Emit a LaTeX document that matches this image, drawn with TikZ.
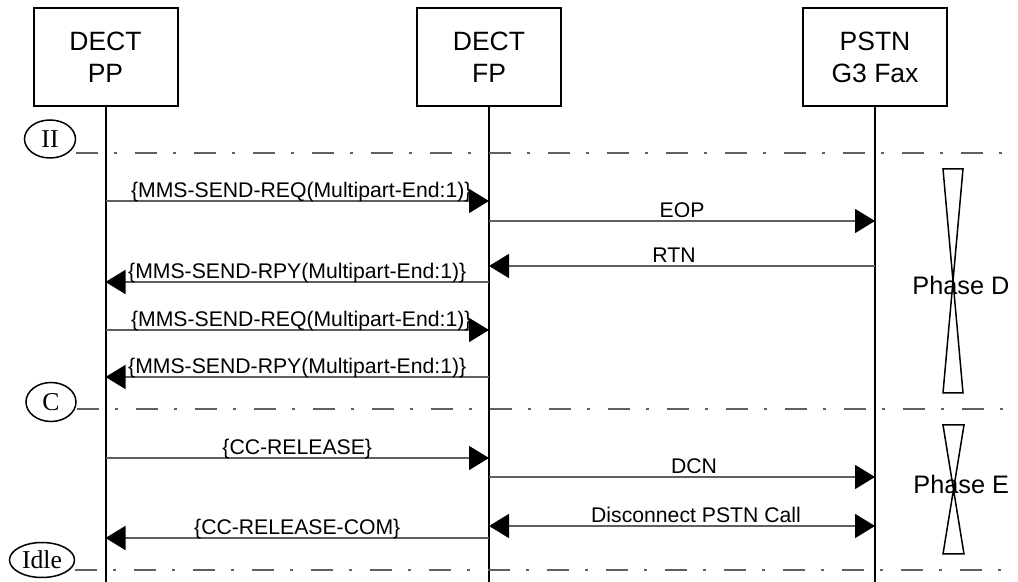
\documentclass[tikz,border=0pt]{standalone}
\usepackage{fontspec}
\setmainfont{Liberation Sans}
\newfontfamily\circfont{Liberation Serif}
\usetikzlibrary{arrows.meta,shapes.geometric}
\definecolor{lngray}{RGB}{95,95,95}
\begin{document}
\begin{tikzpicture}[x=0.5pt,y=-0.5pt,
  entity/.style={draw,line width=1pt,minimum width=72pt,minimum height=49pt,align=center,
    font=\fontsize{13.25}{16}\selectfont,inner sep=0pt},
  life/.style={line width=1pt},
  msg/.style={draw=lngray,line width=0.8pt},
  fwd/.style={-{Triangle[length=10pt,width=12pt,color=black]}},
  both/.style={{Triangle[length=10pt,width=12pt,color=black]}-{Triangle[length=10pt,width=12pt,color=black]}},
  lbl/.style={midway,anchor=base,yshift=1.5pt,inner sep=0pt,font=\fontsize{10.6}{12}\selectfont},
  state/.style={ellipse,draw,line width=0.75pt,inner sep=0pt,font=\circfont\fontsize{12.85}{14}\selectfont},
  phaseline/.style={draw=lngray,line width=0.8pt,dash pattern=on 11pt off 8pt on 1.5pt off 9pt},
  hglass/.style={line width=0.75pt},
  phasetxt/.style={anchor=west,inner sep=0pt,font=\fontsize{12.65}{14}\selectfont}
]
\useasboundingbox (0,0) rectangle (1018,582);

% entities
\node[entity] (PP) at (105.5,57) {DECT\\PP};
\node[entity] (FP) at (489,57) {DECT\\FP};
\node[entity] (PS) at (875,57) {PSTN\\G3 Fax};

\coordinate (bot) at (0,582);
\draw[life] (PP.south) -- (PP.south |- bot);
\draw[life] (FP.south) -- (FP.south |- bot);
\draw[life] (PS.south) -- (PS.south |- bot);

% state markers and phase separators
\node[state,minimum width=25.5pt,minimum height=19pt] (sII) at (50,139) {II};
\node[state,minimum width=25pt,minimum height=19.5pt] (sC) at (51,402) {C};
\node[state,minimum width=32.5pt,minimum height=17.5pt] (sIdle) at (42,560) {Idle};
\coordinate (e1) at (1018,153);
\coordinate (e2) at (1018,409);
\coordinate (e3) at (1018,570);
\draw[phaseline] (sII.east |- e1) -- (e1);
\draw[phaseline] (sC.east |- e2) -- (e2);
\draw[phaseline] (sIdle.east |- e3) -- (e3);

% message rows
\coordinate (m1) at (0,201);
\coordinate (m2) at (0,221);
\coordinate (m3) at (0,266);
\coordinate (m4) at (0,282);
\coordinate (m5) at (0,330);
\coordinate (m6) at (0,377);
\coordinate (m7) at (0,458);
\coordinate (m8) at (0,477);
\coordinate (m9) at (0,526);
\coordinate (m10) at (0,538);

\draw[msg,fwd] (PP |- m1) -- node[lbl,xshift=2pt] {\{MMS-SEND-REQ(Multipart-End:1)\}} (FP |- m1);
\draw[msg,fwd] (FP |- m2) -- node[lbl] {EOP} (PS |- m2);
\draw[msg,fwd] (PS |- m3) -- node[lbl,xshift=-4pt] {RTN} (FP |- m3);
\draw[msg,fwd] (FP |- m4) -- node[lbl] {\{MMS-SEND-RPY(Multipart-End:1)\}} (PP |- m4);
\draw[msg,fwd] (PP |- m5) -- node[lbl,xshift=2pt] {\{MMS-SEND-REQ(Multipart-End:1)\}} (FP |- m5);
\draw[msg,fwd] (FP |- m6) -- node[lbl] {\{MMS-SEND-RPY(Multipart-End:1)\}} (PP |- m6);
\draw[msg,fwd] (PP |- m7) -- node[lbl] {\{CC-RELEASE\}} (FP |- m7);
\draw[msg,fwd] (FP |- m8) -- node[lbl,xshift=6pt] {DCN} (PS |- m8);
\draw[msg,both] (FP |- m9) -- node[lbl,xshift=7pt] {Disconnect PSTN Call} (PS |- m9);
\draw[msg,fwd] (FP |- m10) -- node[lbl] {\{CC-RELEASE-COM\}} (PP |- m10);

% phases
\draw[hglass] (943,169) -- (963,169) -- (943,393) -- (963,393) -- cycle;
\node[phasetxt] (phD) at (912,285) {Phase D};
\draw[hglass] (943,425) -- (964,425) -- (943,554) -- (964,554) -- cycle;
\node[phasetxt] (phE) at (913,484) {Phase E};
\end{tikzpicture}
\end{document}
